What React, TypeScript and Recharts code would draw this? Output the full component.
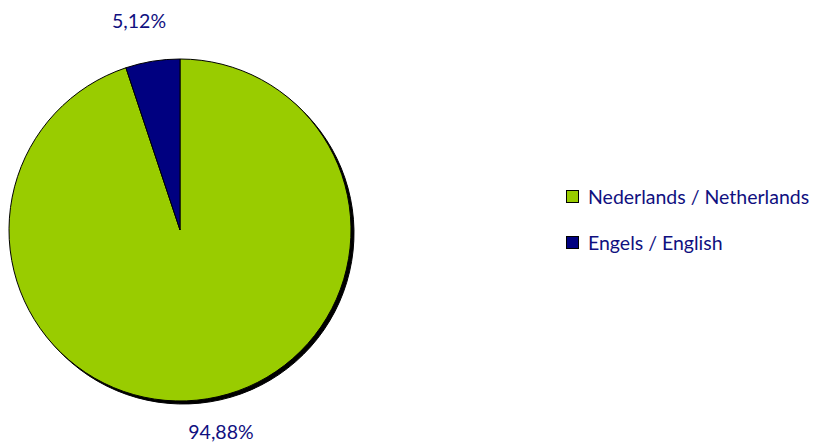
import React from "react";
import { PieChart, Pie, Cell, Legend } from "recharts";

const categories = ["Nederlands / Netherlands", "Engels / English"];
const values = [94.88, 5.12];
const labels = ["94,88%", "5,12%"];
const colors = ["#99CC00", "#000080"];

const data = categories.map((name, i) => ({ name, value: values[i], label: labels[i] }));

const FONT = "Lato, 'Open Sans', sans-serif";
const TEXT = "#10107F";

const RADIAN = Math.PI / 180;
const renderLabel = (props: any) => {
  const { cx, cy, midAngle, outerRadius, index } = props;
  const r = outerRadius + 39;
  let a = ((midAngle % 360) + 360) % 360;
  if (a > 180) a -= 360;
  const base = a > 0 ? 90 : -90;
  const ang = base + (a - base) * 1.22;
  const x = cx + r * Math.cos(-ang * RADIAN);
  const y = cy + r * Math.sin(-ang * RADIAN) - 4;
  return (
    <text x={x} y={y} fill={TEXT} fontFamily={FONT} fontSize={19.5} textAnchor="middle" dominantBaseline="central">
      {data[index].label}
    </text>
  );
};

const renderLegend = () => (
  <div style={{ fontFamily: FONT, fontSize: 19.5, color: TEXT }}>
    {data.map((d, i) => (
      <div key={d.name} style={{ display: "flex", alignItems: "center", height: 24, marginBottom: 22 }}>
        <span
          style={{
            display: "inline-block",
            width: 11,
            height: 11,
            background: colors[i],
            border: "1px solid #000",
            marginRight: 9,
          }}
        />
        <span>{d.name}</span>
      </div>
    ))}
  </div>
);

export default function App() {
  return (
    <div style={{ position: "absolute", left: 0, top: 0, background: "#fff" }}>
      <PieChart width={813} height={445} margin={{ top: 0, right: 0, bottom: 0, left: 0 }}>
        <Pie
          data={data}
          dataKey="value"
          cx={183}
          cy={233}
          outerRadius={171}
          startAngle={90}
          endAngle={-270}
          fill="#000"
          stroke="#000"
          strokeWidth={1}
          isAnimationActive={false}
          legendType="none"
        >
          {data.map((d) => (
            <Cell key={"s" + d.name} fill="#000" stroke="#000" />
          ))}
        </Pie>
        <Pie
          data={data}
          dataKey="value"
          cx={180}
          cy={230}
          outerRadius={171}
          startAngle={90}
          endAngle={-270}
          stroke="#000"
          strokeWidth={1}
          label={renderLabel}
          labelLine={false}
          isAnimationActive={false}
        >
          {data.map((d, i) => (
            <Cell key={d.name} fill={colors[i]} stroke="#000" />
          ))}
        </Pie>
        <Legend
          content={renderLegend}
          layout="vertical"
          wrapperStyle={{ position: "absolute", left: 566, top: 184, width: 260 }}
        />
      </PieChart>
    </div>
  );
}
